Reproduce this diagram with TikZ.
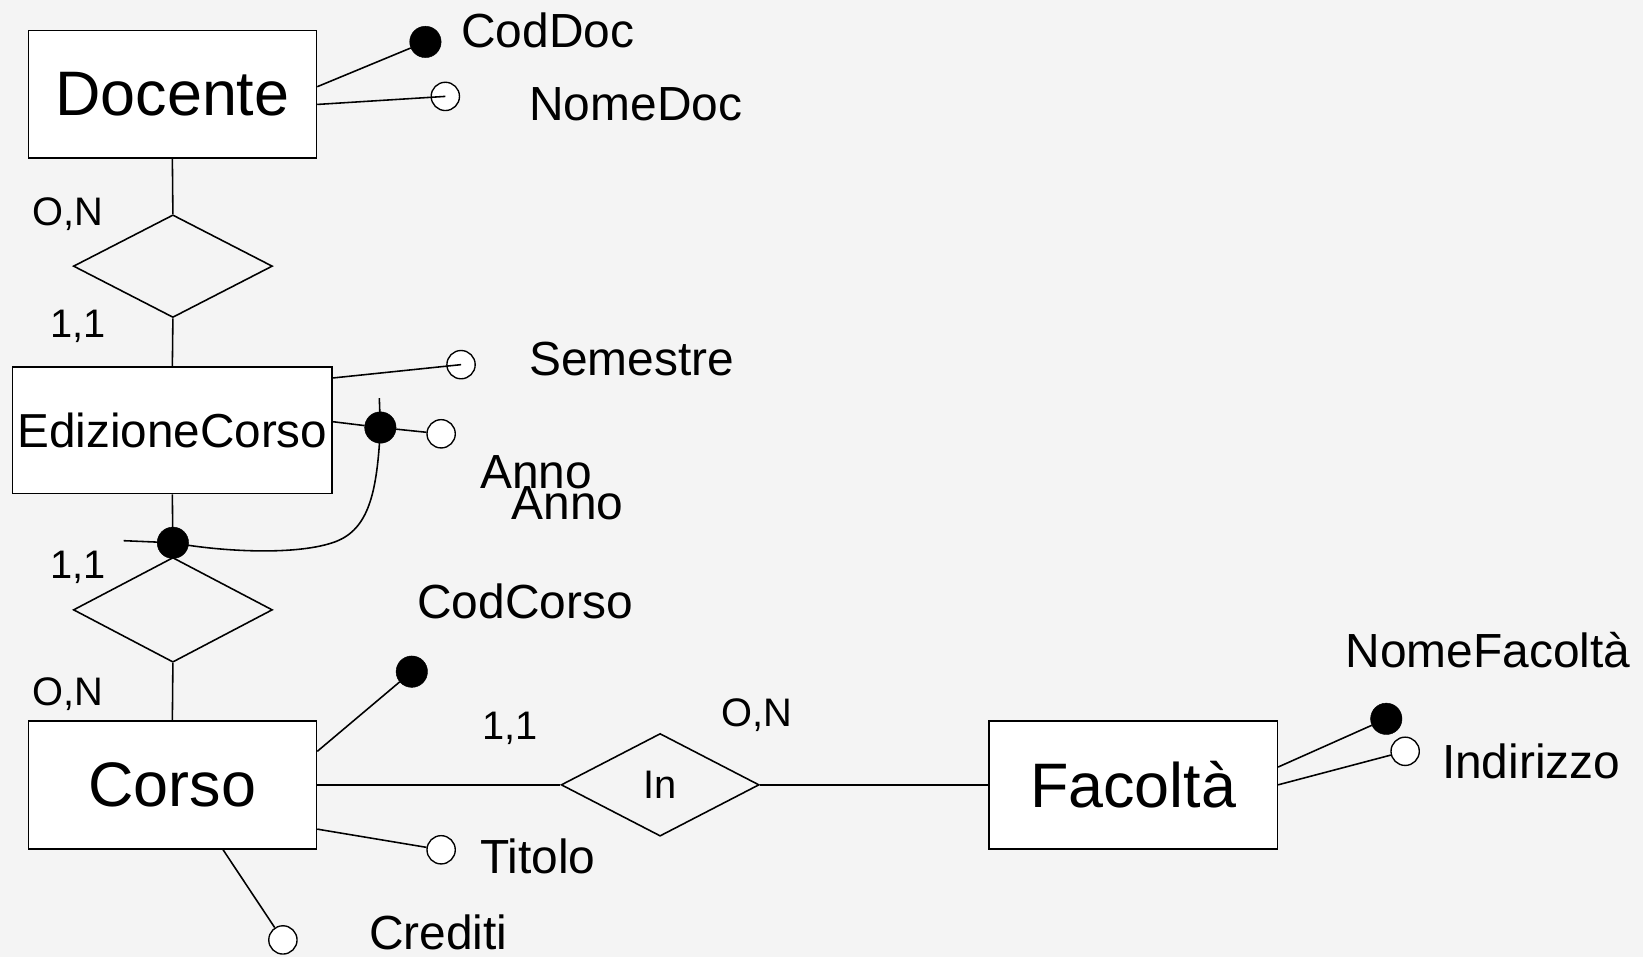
\documentclass[tikz,border=0pt]{standalone}
\usepackage{fontspec}
\setmainfont{Liberation Sans}
\usetikzlibrary{shapes.geometric,calc}
\definecolor{bg}{HTML}{F4F4F4}
\begin{document}
\begin{tikzpicture}[x=1pt,y=-1pt,
  ent/.style={draw, fill=white, line width=1.5pt, minimum width=275pt, minimum height=122pt, inner sep=0pt, font=\fontsize{60}{72}\selectfont},
  rel/.style={draw, diamond, line width=1.5pt, minimum width=190pt, minimum height=98pt, inner sep=0pt, font=\fontsize{38}{46}\selectfont},
  idatt/.style={circle, fill=black, draw=black, minimum size=30pt, inner sep=0pt},
  att/.style={circle, fill=white, draw=black, line width=1.3pt, minimum size=27pt, inner sep=0pt},
  lbl/.style={inner sep=0pt, anchor=base west, font=\fontsize{45.7}{55}\selectfont},
  card/.style={inner sep=0pt, anchor=base west, font=\fontsize{38}{46}\selectfont},
  conn/.style={line width=1.5pt}
]
\path[use as bounding box, fill=bg] (0,0) rectangle (1568,913);

% entities
\node[ent] (doc) at (164.5,90) {Docente};
\node[ent, minimum width=305pt, minimum height=121pt, font=\fontsize{45.5}{55}\selectfont] (edc) at (164.5,410.5) {EdizioneCorso};
\node[ent] (corso) at (164.5,749) {Corso};
\node[ent] (fac) at (1081.5,749) {Facoltà};

% relationships
\node[rel] (r1) at (165,254) {};
\node[rel, minimum height=100pt] (r2) at (165,582) {};
\node[rel, minimum width=189pt] (rin) at (630,749) {In};

% entity-relationship lines
\draw[conn] (doc.south) -- (r1.north);
\draw[conn] (r1.south) -- (edc.north);
\draw[conn] (edc.south) -- (r2.north);
\draw[conn] (r2.south) -- (corso.north);
\draw[conn] (corso.east) -- (rin.west);
\draw[conn] (rin.east) -- (fac.west);

% attribute circles
\node[idatt] (coddoc) at (406,40) {};
\node[att] (nomedoc) at (425,92) {};
\node[att] (sem) at (440,348) {};
\node[idatt] (annoid) at (363,408) {};
\node[att] (anno) at (421,414) {};
\node[idatt] (extid) at (165,518) {};
\node[idatt] (codcorso) at (393,641) {};
\node[att] (titolo) at (421,811) {};
\node[att] (crediti) at (270,897) {};
\node[idatt] (nomefac) at (1323,686) {};
\node[att] (indir) at (1341,717) {};

% attribute lines
\draw[conn] (doc.3.3) -- (coddoc);
\draw[conn] (doc.-4.6) -- (nomedoc.center);
\draw[conn] (edc.18.7) -- (sem.center);
\draw[conn] (edc.3.9) -- (annoid);
\draw[conn] (annoid) -- (anno);
\draw[conn] (corso.13.5) -- (codcorso);
\draw[conn] (corso.-17.8) -- (titolo);
\draw[conn] (corso.-52.1) -- (crediti);
\draw[conn] (fac.7.9) -- (nomefac);
\draw[conn] (fac.0.8) -- (indir);

% external identifier curve
\coordinate (ctop) at (362,380);
\coordinate (ctail) at (118,516);
\draw[conn] (ctop) -- (annoid.center) .. controls (360,470) and (352,505) .. (320,517) .. controls (285,530) and (215,527) .. (extid.center) -- (ctail);

% attribute labels
\node[lbl] (tcoddoc) at (440,45) {CodDoc};
\node[lbl] (tnomedoc) at (505,115) {NomeDoc};
\node[lbl] (tsem) at (505,358) {Semestre};
\node[lbl] (tanno1) at (458,466) {Anno};
\node[lbl] (tanno2) at (488,496) {Anno};
\node[lbl] (tcodcorso) at (398,590) {CodCorso};
\node[lbl] (tnomefac) at (1284,637) {NomeFacoltà};
\node[lbl] (tindir) at (1376,743) {Indirizzo};
\node[lbl] (ttitolo) at (458,834) {Titolo};
\node[lbl] (tcrediti) at (352,906) {Crediti};

% cardinalities
\node[card] (c1) at (31,215) {O,N};
\node[card] (c2) at (48,322) {1,1};
\node[card] (c3) at (48,552) {1,1};
\node[card] (c4) at (31,673) {O,N};
\node[card] (c5) at (460,706) {1,1};
\node[card] (c6) at (688,693) {O,N};
\end{tikzpicture}
\end{document}
